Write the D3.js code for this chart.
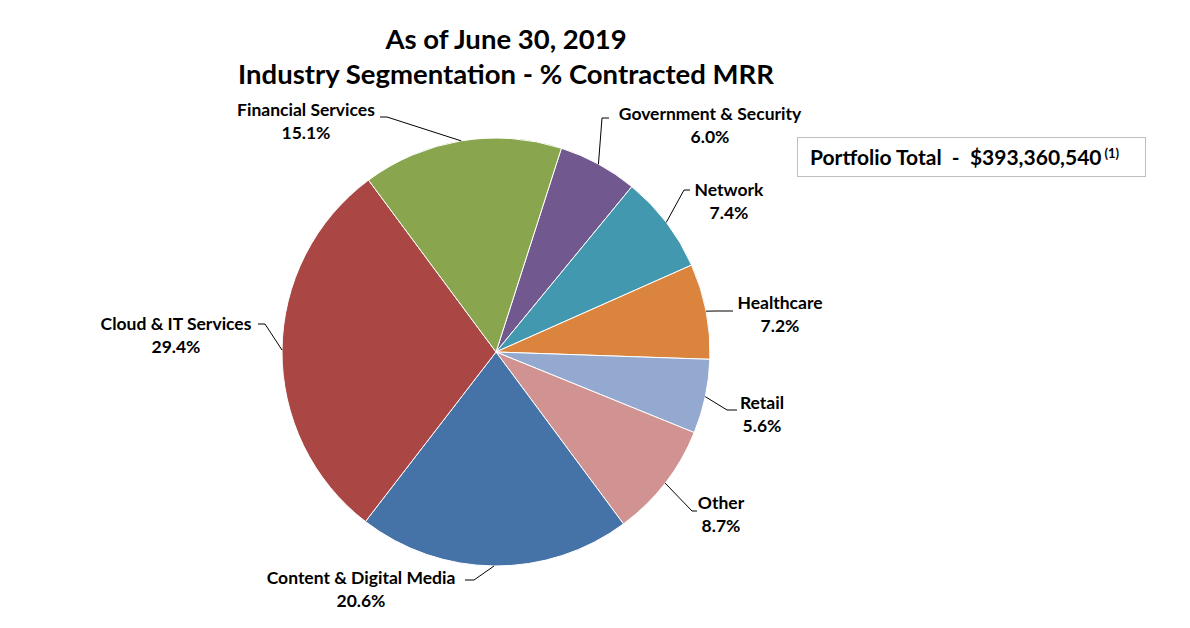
<!DOCTYPE html>
<html><head><meta charset="utf-8">
<script src="https://cdn.jsdelivr.net/npm/d3@7"></script>
<style>
html,body{margin:0;padding:0;background:#fff;}
svg{display:block;font-family:Lato,"Open Sans",sans-serif;font-weight:bold;}
</style></head>
<body>
<svg id="chart" width="1190" height="628"></svg>
<script>
// ---- data ----
const categories = ["Government & Security","Network","Healthcare","Retail","Other","Content & Digital Media","Cloud & IT Services","Financial Services"];
const values = [6.0, 7.4, 7.2, 5.6, 8.7, 20.6, 29.4, 15.1];
const colors = ["#71588F","#4198AF","#DB843D","#93A9CF","#D19392","#4572A7","#AA4643","#89A54E"];
const titleLines = ["As of June 30, 2019","Industry Segmentation - % Contracted MRR"];
const totalText = "Portfolio Total  -  $393,360,540";
const footnote = "(1)";

// ---- layout (label anchors: text centre x, first-line y, leader elbow) ----
const labelLayout = [
  {x:710, y:114, elbowX:602, elbowY:118, startX:609},
  {x:729, y:190, elbowX:684, elbowY:190, startX:690},
  {x:780, y:303, elbowX:716, elbowY:311, startX:733},
  {x:762, y:403, elbowX:727, elbowY:410, startX:737},
  {x:721, y:503, elbowX:692, elbowY:511, startX:697},
  {x:361, y:578, elbowX:474, elbowY:580, startX:465},
  {x:176, y:324, elbowX:265, elbowY:324, startX:258},
  {x:306, y:110, elbowX:387, elbowY:117, startX:380}
];

const svg = d3.select("#chart");
const cx = 496, cy = 352, R = 214;
const startDeg = 17.8;

const pie = d3.pie().sort(null).value(d => d)
  .startAngle(startDeg*Math.PI/180).endAngle(startDeg*Math.PI/180 + 2*Math.PI);
const arcs = pie(values);
const arc = d3.arc().innerRadius(0).outerRadius(R);
const edge = d3.arc().innerRadius(R).outerRadius(R);

const g = svg.append("g").attr("transform",`translate(${cx},${cy})`);
g.selectAll("path.slice").data(arcs).enter().append("path")
  .attr("class","slice")
  .attr("d",arc)
  .attr("fill",(d,i)=>colors[i])
  .attr("stroke","#fff").attr("stroke-width",1);

// leader lines
svg.selectAll("polyline.leader").data(arcs).enter().append("polyline")
  .attr("class","leader")
  .attr("fill","none").attr("stroke","#000").attr("stroke-width",1)
  .attr("points",(d,i)=>{
    const c = edge.centroid(d);
    const L = labelLayout[i];
    return `${L.startX},${L.elbowY} ${L.elbowX},${L.elbowY} ${cx+c[0]},${cy+c[1]}`;
  });

// labels
const lab = svg.selectAll("text.lbl").data(arcs).enter().append("text")
  .attr("class","lbl").attr("text-anchor","middle")
  .attr("font-size",17.5).attr("fill","#000");
lab.append("tspan").attr("x",(d,i)=>labelLayout[i].x).attr("y",(d,i)=>labelLayout[i].y+6)
  .text((d,i)=>categories[i]);
lab.append("tspan").attr("x",(d,i)=>labelLayout[i].x).attr("y",(d,i)=>labelLayout[i].y+29)
  .text((d,i)=>values[i].toFixed(1)+"%");

// title
svg.selectAll("text.title").data(titleLines).enter().append("text")
  .attr("class","title").attr("text-anchor","middle")
  .attr("x",506).attr("y",(d,i)=>49+i*35)
  .attr("font-size",27.5).attr("fill","#000").text(d=>d);

// total box
svg.append("rect").attr("x",797.5).attr("y",137.5).attr("width",348).attr("height",39)
  .attr("fill","#fff").attr("stroke","#bfbfbf").attr("stroke-width",1);
const tt = svg.append("text").attr("x",810).attr("y",165).attr("font-size",21).attr("fill","#000");
tt.append("tspan").text(totalText).attr("xml:space","preserve").style("white-space","pre");
tt.append("tspan").attr("dx",3).attr("dy",-7).attr("font-size",13).text(footnote);
</script>
</body></html>
